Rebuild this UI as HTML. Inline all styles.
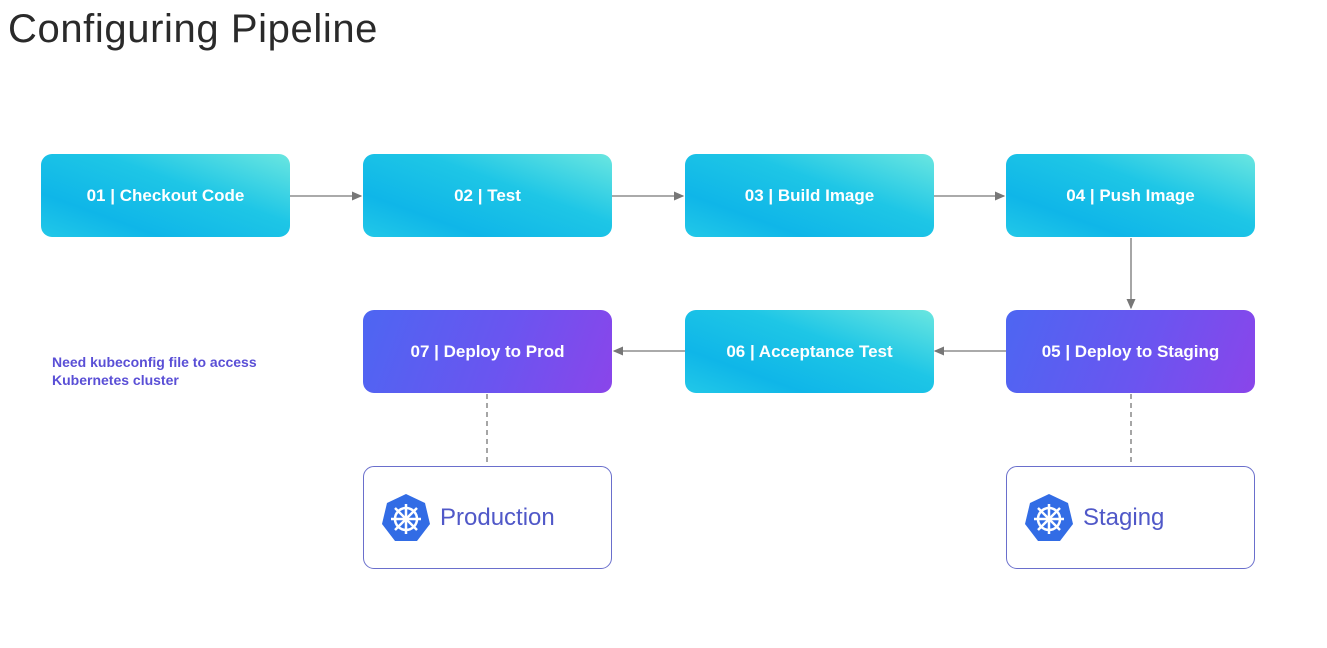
<!DOCTYPE html>
<html><head><style>
body{margin:0;width:1327px;height:648px;background:#fff;position:relative;font-family:"Liberation Sans",sans-serif;overflow:hidden}
.t{position:absolute;left:8px;top:7px;font-size:40px;letter-spacing:0.6px;color:#2a2a2a}
.b{position:absolute;width:249px;height:83px;border-radius:11px;color:#fff;font-weight:bold;font-size:17px;display:flex;align-items:center;justify-content:center}
.c{background:linear-gradient(200deg,#6ae6e0 0%,#1ec6e6 40%,#0fb6e8 75%,#22c8e8 100%)}
.p{background:linear-gradient(110deg,#4d66f2 0%,#6a55f0 55%,#8a45ea 100%)}
.k{position:absolute;width:247px;height:101px;border:1.5px solid #6a6fcc;border-radius:11px;background:#fff;display:flex;align-items:center;font-size:24px;color:#5058c8}
.k svg{margin-left:16px;margin-right:8px}
.n{position:absolute;left:52px;top:353px;font-size:14px;font-weight:bold;color:#5a4fd6;line-height:18px}
</style></head><body>
<div class="t">Configuring Pipeline</div>
<svg width="1327" height="648" style="position:absolute;left:0;top:0">
<defs><marker id="a" markerWidth="8" markerHeight="8" refX="7" refY="4" orient="auto"><path d="M0,0.5 L8,4 L0,7.5z" fill="#777"/></marker></defs>
<g stroke="#777" stroke-width="1.3" fill="none">
<line x1="290" y1="196" x2="361" y2="196" marker-end="url(#a)"/>
<line x1="612" y1="196" x2="683" y2="196" marker-end="url(#a)"/>
<line x1="934" y1="196" x2="1004" y2="196" marker-end="url(#a)"/>
<line x1="1131" y1="238" x2="1131" y2="308" marker-end="url(#a)"/>
<line x1="1006" y1="351" x2="935" y2="351" marker-end="url(#a)"/>
<line x1="685" y1="351" x2="614" y2="351" marker-end="url(#a)"/>
<line x1="487" y1="394" x2="487" y2="465" stroke-dasharray="5,4"/>
<line x1="1131" y1="394" x2="1131" y2="465" stroke-dasharray="5,4"/>
</g></svg>
<div class="b c" style="left:41px;top:154px">01 | Checkout Code</div>
<div class="b c" style="left:363px;top:154px">02 | Test</div>
<div class="b c" style="left:685px;top:154px">03 | Build Image</div>
<div class="b c" style="left:1006px;top:154px">04 | Push Image</div>
<div class="b p" style="left:363px;top:310px">07 | Deploy to Prod</div>
<div class="b c" style="left:685px;top:310px">06 | Acceptance Test</div>
<div class="b p" style="left:1006px;top:310px">05 | Deploy to Staging</div>
<div class="n">Need kubeconfig file to access<br>Kubernetes cluster</div>
<div class="k" style="left:363px;top:466px"><svg width="52" height="52" viewBox="0 0 52 52"><polygon points="26,2 45,11 50,32 37,49 15,49 2,32 7,11" fill="#326ce5"/><g stroke="#fff" stroke-width="2.5" fill="none"><circle cx="26" cy="27" r="11"/><line x1="26" y1="12" x2="26" y2="42"/><line x1="11" y1="27" x2="41" y2="27"/><line x1="15" y1="16" x2="37" y2="38"/><line x1="37" y1="16" x2="15" y2="38"/></g><circle cx="26" cy="27" r="3" fill="#fff"/></svg>Production</div>
<div class="k" style="left:1006px;top:466px"><svg width="52" height="52" viewBox="0 0 52 52"><polygon points="26,2 45,11 50,32 37,49 15,49 2,32 7,11" fill="#326ce5"/><g stroke="#fff" stroke-width="2.5" fill="none"><circle cx="26" cy="27" r="11"/><line x1="26" y1="12" x2="26" y2="42"/><line x1="11" y1="27" x2="41" y2="27"/><line x1="15" y1="16" x2="37" y2="38"/><line x1="37" y1="16" x2="15" y2="38"/></g><circle cx="26" cy="27" r="3" fill="#fff"/></svg>Staging</div>
</body></html>
